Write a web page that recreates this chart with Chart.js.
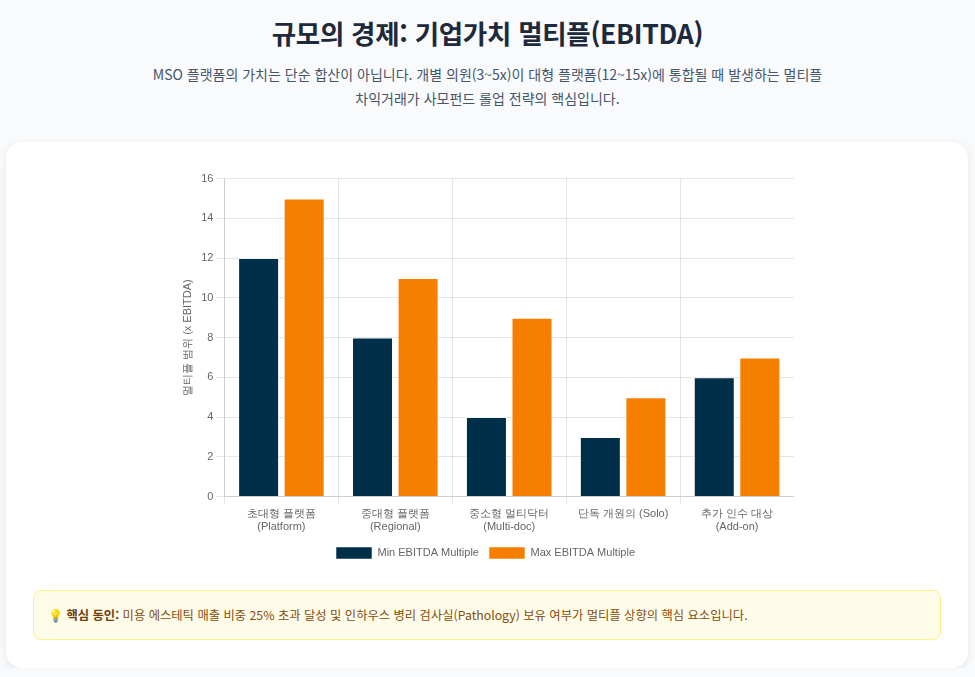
<!DOCTYPE html>
<html lang="ko">
<head>
<meta charset="utf-8">
<script src="https://cdn.jsdelivr.net/npm/chart.js@4.4.1/dist/chart.umd.min.js"></script>
<style>
  body {
    margin: 0;
    background: #f8fafc;
    font-family: "Noto Sans CJK KR", "Noto Sans", sans-serif;
    color: #1e293b;
  }
  .header { text-align: center; padding-top: 13px; }
  h1 { font-size: 26.5px; font-weight: 700; margin: 0 0 10px 0; color: #1e293b; letter-spacing: -0.3px; }
  .sub { font-size: 14px; color: #475569; line-height: 24px; margin: 0 auto; width: 700px; word-break: keep-all; }
  .card {
    margin: 32px 7px 0 6px;
    background: #fff;
    border-radius: 16px;
    box-shadow: 0 2px 8px rgba(0,0,0,0.08);
    padding: 27px 27px 28px 27px;
  }
  .chart-wrap { width: 617px; height: 400px; margin: 0 auto; position: relative; left: -2px; }
  .insight {
    margin-top: 21px;
    background: #fefce8;
    border: 1px solid #fef08a;
    border-radius: 8px;
    padding: 15px 14px 15px 14px;
    font-size: 12.3px;
    color: #854d0e;
  }
  .insight b { color: #713f12; }
</style>
</head>
<body>
<div class="header">
  <h1>규모의 경제: 기업가치 멀티플(EBITDA)</h1>
  <p class="sub">MSO 플랫폼의 가치는 단순 합산이 아닙니다. 개별 의원(3~5x)이 대형 플랫폼(12~15x)에 통합될 때 발생하는 멀티플 차익거래가 사모펀드 롤업 전략의 핵심입니다.</p>
</div>
<div class="card">
  <div class="chart-wrap"><canvas id="myChart"></canvas></div>
  <div class="insight">💡 <b>핵심 동인:</b> 미용 에스테틱 매출 비중 25% 초과 달성 및 인하우스 병리 검사실(Pathology) 보유 여부가 멀티플 상향의 핵심 요소입니다.</div>
</div>
<script>
const categories = [
  ["초대형 플랫폼", "(Platform)"],
  ["중대형 플랫폼", "(Regional)"],
  ["중소형 멀티닥터", "(Multi-doc)"],
  "단독 개원의 (Solo)",
  ["추가 인수 대상", "(Add-on)"]
];
const minMultiple = [12, 8, 4, 3, 6];
const maxMultiple = [15, 11, 9, 5, 7];

function displayChart(){
  const ctx = document.getElementById("myChart").getContext("2d");
  const myChart = new Chart(ctx, {
    type: "bar",
    data: {
      labels: categories,
      datasets: [
        {
          label: "Min EBITDA Multiple",
          data: minMultiple,
          backgroundColor: "#003049",
          borderColor: "rgba(255,255,255,0.5)",
          borderWidth: 1,
        },
        {
          label: "Max EBITDA Multiple",
          data: maxMultiple,
          backgroundColor: "#f77f00",
          borderColor: "rgba(255,255,255,0.5)",
          borderWidth: 1,
        },
      ],
    },
    options: {
      responsive: true,
      maintainAspectRatio: false,
      animation: false,
      plugins: {
        legend: {
          position: "bottom",
          labels: { boxWidth: 36, boxHeight: 12, font: { size: 11 } },
        },
        tooltip: { enabled: false },
      },
      scales: {
        y: {
          beginAtZero: true,
          max: 16,
          ticks: { stepSize: 2, font: { size: 11 } },
          title: { display: true, text: "멀티플 범위 (x EBITDA)", font: { size: 11 } },
        },
        x: {
          ticks: { font: { size: 11 } },
        },
      },
    },
  })
};
displayChart();
</script>
</body>
</html>
